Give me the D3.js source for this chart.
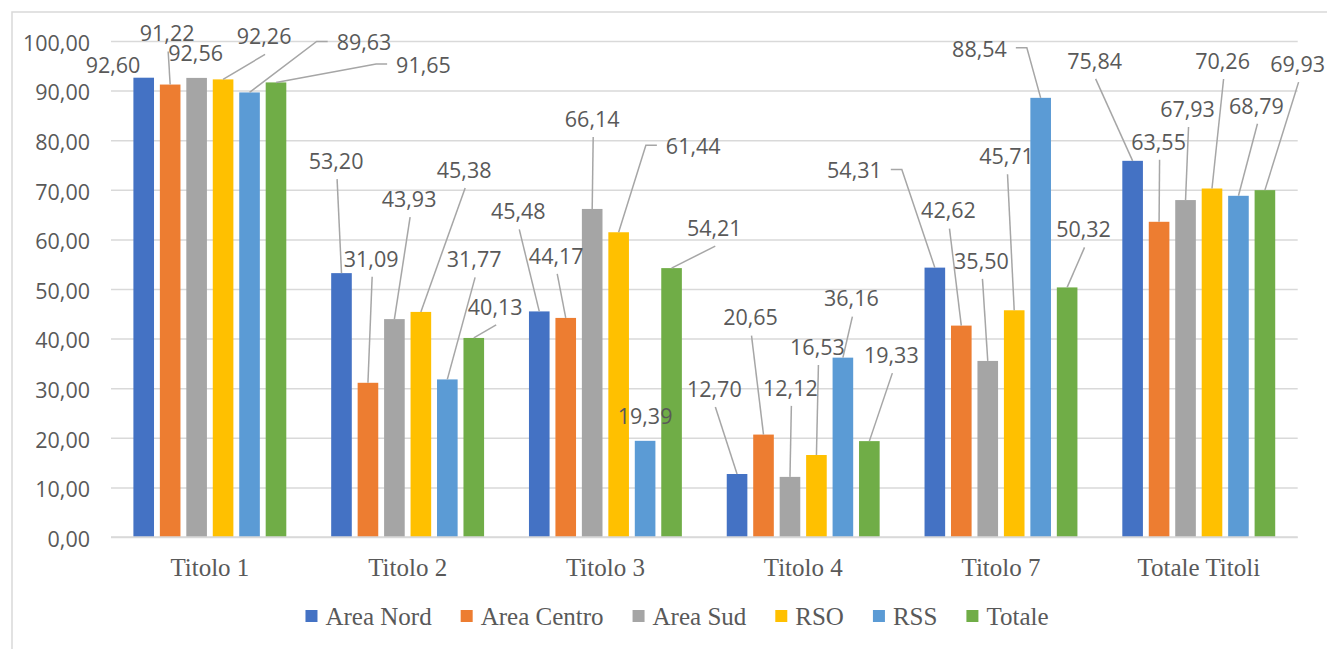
<!DOCTYPE html>
<html>
<head>
<meta charset="utf-8">
<script src="https://cdn.jsdelivr.net/npm/d3@7"></script>
<style>
  html, body { margin: 0; padding: 0; background: #fff; }
  svg { display: block; }
</style>
</head>
<body>
<script>
// Categories and series
const categories = ["Titolo 1", "Titolo 2", "Titolo 3", "Titolo 4", "Titolo 7", "Totale Titoli"];
const seriesNames = ["Area Nord", "Area Centro", "Area Sud", "RSO", "RSS", "Totale"];

const areaNord   = [92.60, 53.20, 45.48, 12.70, 54.31, 75.84];
const areaCentro = [91.22, 31.09, 44.17, 20.65, 42.62, 63.55];
const areaSud    = [92.56, 43.93, 66.14, 12.12, 35.50, 67.93];
const rso        = [92.26, 45.38, 61.44, 16.53, 45.71, 70.26];
const rss        = [89.63, 31.77, 19.39, 36.16, 88.54, 68.79];
const totale     = [91.65, 40.13, 54.21, 19.33, 50.32, 69.93];

const yTicks = [0, 10, 20, 30, 40, 50, 60, 70, 80, 90, 100];

const seriesValues = [areaNord, areaCentro, areaSud, rso, rss, totale];
const colors = ["#4472C4", "#ED7D31", "#A5A5A5", "#FFC000", "#5B9BD5", "#70AD47"];

// Data-label placement: [dx, dy, leader] relative to the top-centre of each bar.
// leader: 0 = none, 1 = straight line, 2 = line with a horizontal elbow
const labelPlacement = [
  [[-30.7, -12.7, 0], [-3, -51, 1], [-1, -25, 0], [41, -43, 1], [114.5, -50, 2], [147.5, -17.4, 2]],
  [[-5.4, -112, 1], [3.2, -124, 1], [14.7, -120, 1], [43.3, -142, 1], [26.8, -120, 1], [21.4, -31, 1]],
  [[-21, -100, 1], [-9.5, -62, 1], [0, -90, 1], [74.6, -86, 2], [0, -25, 0], [42.7, -40, 1]],
  [[-22.7, -85, 1], [-13, -117, 1], [0.4, -89, 1], [1, -108, 1], [8.5, -59, 1], [22, -86, 1]],
  [[-80.4, -97, 2], [-12.8, -115, 1], [-6.3, -100, 1], [-7.7, -154, 1], [-61.2, -49, 2], [16.4, -58, 1]],
  [[-38, -100, 1], [-0.5, -80, 1], [2, -91, 1], [10.6, -127.5, 1], [18, -90, 1], [32.7, -126, 1]]
];

const W = 1327, H = 649;
const textColor = "#595959";
const gridColor = "#d9d9d9";
const leaderColor = "#a6a6a6";
const sansFont = "'Open Sans', 'Noto Sans', sans-serif";
const serifFont = "'Liberation Serif', 'DejaVu Serif', serif";
const valueFontSize = 21.5;

const fmt = v => d3.format(".2f")(v).replace(".", ",");

const svg = d3.select("body").append("svg")
  .attr("width", W).attr("height", H);

// Chart frame
svg.append("rect")
  .attr("x", 12).attr("y", 12)
  .attr("width", 1400).attr("height", 700)
  .attr("fill", "#fff")
  .attr("stroke", gridColor).attr("stroke-width", 1.5);

const plotLeft = 111, plotRight = 1297.7;

const x0 = d3.scaleBand().domain(categories).range([plotLeft, plotRight]);
const x1 = d3.scaleBand().domain(seriesNames).range([22.4, 175.3]).paddingInner(0.221);
const y = d3.scaleLinear().domain([0, 100]).range([537, 41]);

// Value axis with gridlines
const yAxis = svg.append("g")
  .attr("transform", `translate(${plotLeft},0)`)
  .call(d3.axisLeft(y)
    .tickValues(yTicks)
    .tickSize(-(plotRight - plotLeft))
    .tickPadding(21)
    .tickFormat(fmt));
yAxis.select(".domain").remove();
yAxis.selectAll(".tick line")
  .attr("stroke", gridColor).attr("stroke-width", 1.5);
yAxis.selectAll(".tick text")
  .attr("fill", textColor)
  .attr("font-family", sansFont)
  .attr("font-size", valueFontSize)
  .attr("dy", "0.43em");

// Bars
const bars = [];
categories.forEach((cat, ci) => {
  seriesNames.forEach((s, si) => {
    bars.push({ cat, ci, s, si, v: seriesValues[si][ci] });
  });
});

svg.append("g").selectAll("rect")
  .data(bars)
  .join("rect")
  .attr("x", d => x0(d.cat) + x1(d.s))
  .attr("y", d => y(d.v))
  .attr("width", x1.bandwidth())
  .attr("height", d => y(0) - y(d.v))
  .attr("fill", d => colors[d.si]);

// Category axis baseline
svg.append("line")
  .attr("x1", plotLeft).attr("x2", plotRight)
  .attr("y1", y(0)).attr("y2", y(0))
  .attr("stroke", gridColor).attr("stroke-width", 1.5);

// Category labels
svg.append("g").selectAll("text")
  .data(categories)
  .join("text")
  .attr("x", d => x0(d) + x0.bandwidth() / 2)
  .attr("y", 576)
  .attr("text-anchor", "middle")
  .attr("font-family", serifFont)
  .attr("font-size", 25)
  .attr("fill", textColor)
  .text(d => d);

// Data labels with leader lines
const leaders = svg.append("g");
const labels = svg.append("g");

bars.forEach(d => {
  const [dx, dy, kind] = labelPlacement[d.ci][d.si];
  const bx = x0(d.cat) + x1(d.s) + x1.bandwidth() / 2;
  const by = y(d.v);
  const lx = bx + dx, ly = by + dy;

  const t = labels.append("text")
    .attr("x", lx)
    .attr("y", ly + 0.36 * valueFontSize)
    .attr("text-anchor", "middle")
    .attr("font-family", sansFont)
    .attr("font-size", valueFontSize)
    .attr("fill", textColor)
    .text(fmt(d.v));

  if (kind === 1) {
    leaders.append("line")
      .attr("x1", lx + 1).attr("y1", ly + 18)
      .attr("x2", bx).attr("y2", by)
      .attr("stroke", leaderColor).attr("stroke-width", 1.5);
  } else if (kind === 2) {
    const w = t.node().getComputedTextLength();
    const side = dx > 0 ? -1 : 1;
    const edge = lx + side * w / 2;
    const ey = ly - 1;
    const pts = [[bx, by], [edge + side * 20, ey], [edge + side * 9, ey]];
    leaders.append("path")
      .attr("d", d3.line()(pts))
      .attr("fill", "none")
      .attr("stroke", leaderColor).attr("stroke-width", 1.5);
  }
});

// Legend
const legend = svg.append("g");
const legendY = 617;
const sq = 12, sqGap = 8, itemGap = 29;
let cursor = 0;
const items = seriesNames.map((name, i) => {
  const g = legend.append("g");
  g.append("rect")
    .attr("x", 0).attr("y", legendY - sq / 2 - 1)
    .attr("width", sq).attr("height", sq)
    .attr("fill", colors[i]);
  const t = g.append("text")
    .attr("x", sq + sqGap)
    .attr("y", legendY + 8)
    .attr("font-family", serifFont)
    .attr("font-size", 25)
    .attr("fill", textColor)
    .text(name);
  const w = sq + sqGap + t.node().getComputedTextLength();
  g.attr("transform", `translate(${cursor},0)`);
  cursor += w + itemGap;
  return g;
});
const legendWidth = cursor - itemGap;
legend.attr("transform", `translate(${677 - legendWidth / 2},0)`);
</script>
</body>
</html>
